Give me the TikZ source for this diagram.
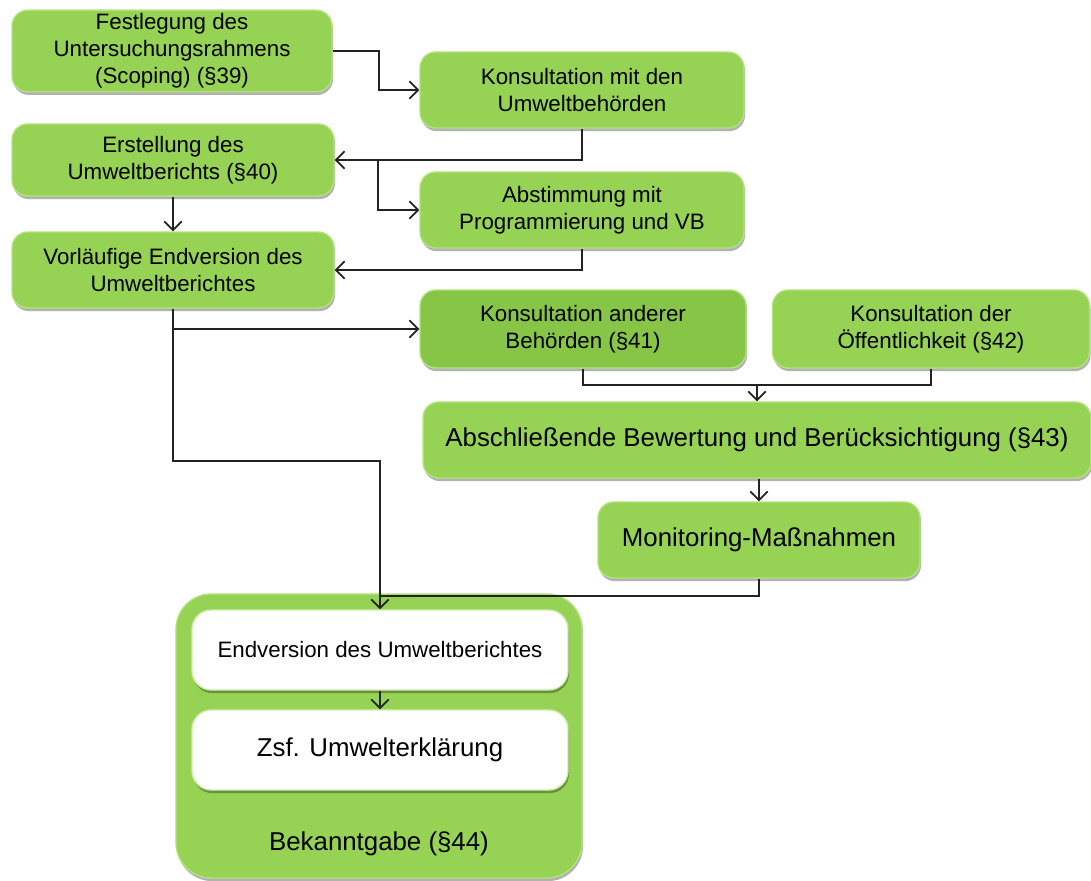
\documentclass[tikz,border=0pt]{standalone}
\usepackage{fontspec}
\setmainfont{Liberation Sans}
\usepackage{xcolor}
\usepackage{tikz}
\usetikzlibrary{arrows.meta}
\usetikzlibrary{shadows}

\definecolor{boxgreen}{RGB}{150,210,84}
\definecolor{boxdark}{RGB}{134,197,70}
\definecolor{boxrim}{RGB}{178,226,124}
\definecolor{linegray}{RGB}{35,35,35}

\tikzset{
	gbox/.style={draw=boxrim, line width=0.8pt, fill=boxgreen, rounded corners=9pt,
		align=center, inner sep=2pt, font=\fontsize{12.7}{15.3}\selectfont,
		drop shadow={shadow xshift=0.6pt, shadow yshift=-1.8pt, fill=black, opacity=0.3}},
	wbox/.style={gbox, fill=white, draw=boxrim!60!white, rounded corners=11pt},
	flow/.style={-{Straight Barb[length=5pt,width=10pt]}, line width=0.95pt, draw=linegray},
	plain/.style={line width=0.95pt, draw=linegray},
	big/.style={font=\fontsize{14.7}{17}\selectfont}
}

\begin{document}
\begin{tikzpicture}[x=0.02cm,y=-0.02cm]
	\useasboundingbox (0,0) rectangle (1091,881);

	\node[gbox, minimum width=6.4cm, minimum height=1.56cm] (f39) at (172,51)
		{Festlegung des\\Untersuchungsrahmens\\(Scoping) (§39)};
	\node[gbox, minimum width=6.48cm, minimum height=1.52cm] (kub) at (582,90)
		{Konsultation mit den\\Umweltbehörden};
	\node[gbox, minimum width=6.44cm, minimum height=1.44cm] (e40) at (173,160)
		{Erstellung des\\Umweltberichts (§40)};
	\node[gbox, minimum width=6.48cm, minimum height=1.52cm] (abs) at (582,210)
		{Abstimmung mit\\Programmierung und VB};
	\node[gbox, minimum width=6.44cm, minimum height=1.52cm] (vor) at (173,270)
		{Vorläufige Endversion des\\Umweltberichtes};
	\node[gbox, fill=boxdark, minimum width=6.52cm, minimum height=1.56cm] (k41) at (583,329)
		{Konsultation anderer\\Behörden (§41)};
	\node[gbox, minimum width=6.34cm, minimum height=1.56cm] (k42) at (931,329)
		{Konsultation der\\Öffentlichkeit (§42)};
	\node[gbox, big, minimum width=13.36cm, minimum height=1.52cm] (b43) at (757,440)
		{Abschließende Bewertung und Berücksichtigung (§43)};
	\node[gbox, big, minimum width=6.44cm, minimum height=1.52cm] (mon) at (759,540)
		{Monitoring-Maßnahmen};

	\node[gbox, rounded corners=20pt, minimum width=8.12cm, minimum height=5.68cm] (bek) at (379,736) {};
	\node[big, anchor=base] (bektxt) at (379,850) {Bekanntgabe (§44)};
	\node[wbox, minimum width=7.52cm, minimum height=1.6cm] (end) at (380,650)
		{Endversion des Umweltberichtes};
	\node[wbox, big, minimum width=7.52cm, minimum height=1.6cm] (zsf) at (380,750)
		{Zsf. Umwelterklärung};

	\coordinate (split) at (378,160);
	\coordinate (merge) at (757,385);
	\coordinate (meet) at (380,596);

	\draw[flow] (f39.east) -- ++(46,0) |- (kub.west);
	\draw[flow] (kub.south) |- (e40.east);
	\draw[flow] (split) |- (abs.west);
	\draw[flow] (e40.south) -- (vor.north);
	\draw[flow] (abs.south) |- (vor.east);
	\draw[flow] (vor.south) |- (k41.west);
	\draw[flow] (vor.south) -- ++(0,152) -| (end.north);
	\draw[plain] (k41.south) |- (merge) -| (k42.south);
	\draw[flow] (merge) -- (b43.north);
	\draw[flow] (mon.north |- b43.south) -- (mon.north);
	\draw[plain] (mon.south) |- (meet);
	\draw[flow] (end.south) -- (zsf.north);
\end{tikzpicture}
\end{document}
